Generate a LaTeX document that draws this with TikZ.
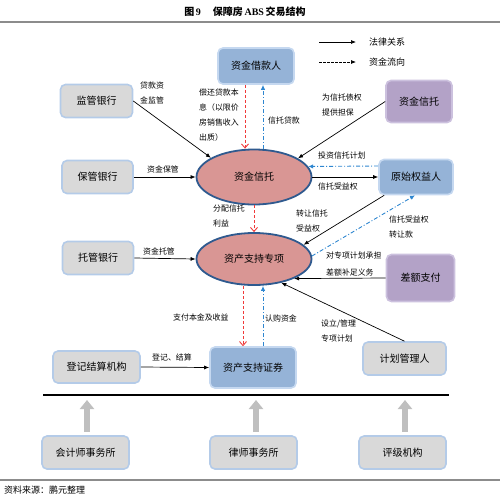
\documentclass[tikz,border=0pt]{standalone}
\usepackage{fontspec}
\setmainfont{Liberation Serif}
\newfontfamily\cjk{Noto Sans CJK SC}
\usetikzlibrary{arrows.meta,shapes.geometric}
\definecolor{grayfill}{HTML}{D9D9D9}
\definecolor{grayedge}{HTML}{B4CBE8}
\definecolor{bluefill}{HTML}{95B3D7}
\definecolor{blueedge}{HTML}{C5D8F0}
\definecolor{purpfill}{HTML}{B3A2C7}
\definecolor{purpedge}{HTML}{CCC1DE}
\definecolor{ellfill}{HTML}{D99694}
\definecolor{elledge}{HTML}{2F5A8F}
\definecolor{redc}{HTML}{F03A3A}
\definecolor{bluec}{HTML}{2E86D0}
\definecolor{arrowgray}{HTML}{BFBFBF}
\definecolor{rulegray}{HTML}{8C8C8C}
\begin{document}
\begin{tikzpicture}[x=1pt,y=-1pt,
  box/.style={rounded corners=5pt, line width=1.6pt, inner sep=0pt,
    font=\cjk\fontsize{10}{12}\selectfont},
  graybox/.style={box, fill=grayfill, draw=grayedge},
  bluebox/.style={box, fill=bluefill, draw=blueedge},
  purpbox/.style={box, fill=purpfill, draw=purpedge},
  ell/.style={ellipse, fill=ellfill, draw=elledge, line width=1.8pt, inner sep=0pt,
    minimum width=115pt, font=\cjk\fontsize{10}{12}\selectfont},
  lbl/.style={font=\cjk\fontsize{7.9}{15}\selectfont, align=left, anchor=west, inner sep=0pt},
  legtxt/.style={font=\cjk\fontsize{9}{11}\selectfont, anchor=west, inner sep=0pt},
  law/.style={-{Latex[length=5pt,width=4pt]}, line width=0.7pt},
  legdash/.style={law, dash pattern=on 2.5pt off 1.5pt},
  flowred/.style={draw=redc, line width=0.9pt, dash pattern=on 3pt off 2pt,
    -{Straight Barb[length=4pt,width=7pt]}},
  flowblue/.style={draw=bluec, line width=0.9pt, dash pattern=on 4pt off 2pt on 1pt off 2pt,
    -{Latex[length=5pt,width=4.5pt]}},
  uparrow/.style={draw=arrowgray, line width=6pt, -{Triangle[width=14pt,length=9pt]}}
]
\useasboundingbox (0,0) rectangle (500,499);

% title and rules
\node (title) at (245,12) {\bfseries{\cjk 图}\,9\hspace{12pt}{\cjk 保障房}\,ABS\,{\cjk 交易结构}};
\draw[rulegray, line width=1.8pt] (0,22) -- (500,22);
\draw[rulegray, line width=1.8pt] (0,480) -- (500,480);
\draw[black, line width=1.5pt] (43,395) -- (449,395);
\node[anchor=west, inner sep=0pt, font=\cjk\fontsize{9}{11}\selectfont] (src) at (4,490) {资料来源：鹏元整理};

% legend
\coordinate (l1a) at (319,42); \coordinate (l1b) at (356,42);
\coordinate (l2a) at (319,62); \coordinate (l2b) at (356,62);
\draw[law] (l1a) -- (l1b);
\draw[legdash] (l2a) -- (l2b);
\node[legtxt] (lt1) at (369,42) {法律关系};
\node[legtxt] (lt2) at (369,62) {资金流向};

% nodes
\node[bluebox, minimum width=76pt, minimum height=36pt] (borrower) at (256,66) {资金借款人};
\node[graybox, minimum width=72pt, minimum height=33pt] (jg) at (96.5,101) {监管银行};
\node[purpbox, minimum width=66pt, minimum height=42pt] (trustbox) at (419,101.5) {资金信托};
\node[graybox, minimum width=71pt, minimum height=33pt] (bg) at (97.5,177) {保管银行};
\node[ell, minimum height=55pt] (ell1) at (254,177) {资金信托};
\node[bluebox, minimum width=74pt, minimum height=35pt] (ysqy) at (416,177) {原始权益人};
\node[graybox, minimum width=71pt, minimum height=33pt] (tg) at (98,258) {托管银行};
\node[ell, minimum height=52pt] (ell2) at (254,259) {资产支持专项};
\node[purpbox, minimum width=68pt, minimum height=47pt] (cezf) at (420.5,278) {差额支付};
\node[graybox, minimum width=87pt, minimum height=32pt] (djjs) at (96.5,367) {登记结算机构};
\node[bluebox, minimum width=86pt, minimum height=41pt] (zczq) at (253,367.5) {资产支持证券};
\node[graybox, minimum width=83pt, minimum height=33pt] (jhglr) at (404.5,358.5) {计划管理人};
\node[graybox, minimum width=87pt, minimum height=33pt] (kjs) at (85.5,452.5) {会计师事务所};
\node[graybox, minimum width=87pt, minimum height=33pt] (lss) at (253.5,452.5) {律师事务所};
\node[graybox, minimum width=87pt, minimum height=33pt] (pj) at (402.5,452.5) {评级机构};

% connectors
\draw[law] (jg.east) -- (ell1.156);
\draw[flowred] ([xshift=-11pt]borrower.south) -- ([xshift=-9pt]ell1.north);
\draw[flowblue] ([xshift=9pt]ell1.north) -- ([xshift=7pt]borrower.south);
\draw[law] (trustbox.west) -- (ell1.23);
\draw[law] (bg.east) -- (ell1.west);
\draw[flowblue] ([yshift=11pt]ysqy.west) -- (ell1.11);
\draw[law] (ell1.east) -- (ysqy.west);
\draw[flowred] (ell1.south) -- (ell2.north);
\draw[law] ([xshift=6pt]ysqy.south west) -- (ell2.16);
\draw[flowblue] (ell2.3) -- ([xshift=-1pt]ysqy.south);
\draw[law] (tg.east) -- (ell2.west);
\draw[law] (cezf.west) -- (ell2.-26);
\draw[law] (jhglr.north) -- (ell2.-41);
\draw[flowred] ([xshift=-11pt]ell2.south) -- ([xshift=-10pt]zczq.north);
\draw[flowblue] ([xshift=10pt]zczq.north) -- ([xshift=9pt]ell2.south);
\draw[law] (djjs.east) -- (zczq.west);

% grey support arrows
\coordinate (u1) at (87,400); \coordinate (u2) at (256,400); \coordinate (u3) at (405,400);
\draw[uparrow] (kjs.north -| u1) ++(0,-3) -- (u1);
\draw[uparrow] (lss.north -| u2) ++(0,-3) -- (u2);
\draw[uparrow] (pj.north -| u3) ++(0,-3) -- (u3);

% labels
\node[lbl] (t1) at (140,92.5) {贷款资\\金监管};
\node[lbl] (t2) at (199,115) {偿还贷款本\\息（以限价\\房销售收入\\出质）};
\node[lbl] (t3) at (268,120) {信托贷款};
\node[lbl] (t4) at (322,104.5) {为信托债权\\提供担保};
\node[lbl] (t5) at (147,169) {资金保管};
\node[lbl] (t6) at (318,156) {投资信托计划};
\node[lbl] (t7) at (318,186) {信托受益权};
\node[lbl] (t8) at (213,215.5) {分配信托\\利益};
\node[lbl] (t9) at (296,221.5) {转让信托\\受益权};
\node[lbl] (t10) at (389,226.5) {信托受益权\\转让款};
\node[lbl] (t11) at (143,251) {资金托管};
\node[lbl, font=\cjk\fontsize{7.9}{17}\selectfont] (t12) at (326,263.5) {对专项计划承担\\差额补足义务};
\node[lbl] (t13) at (321,330.5) {设立/管理\\专项计划};
\node[lbl] (t14) at (173,317) {支付本金及收益};
\node[lbl] (t15) at (265,318) {认购资金};
\node[lbl] (t16) at (152,357) {登记、结算};
\end{tikzpicture}
\end{document}
